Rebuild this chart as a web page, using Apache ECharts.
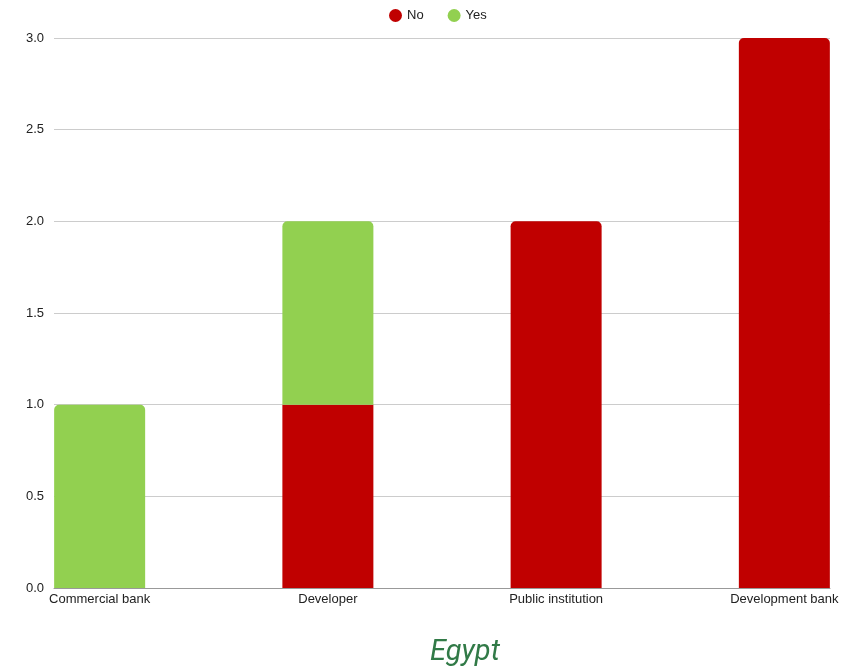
<!DOCTYPE html>
<html>
<head>
<meta charset="utf-8">
<script src="https://cdn.jsdelivr.net/npm/echarts@6/dist/echarts.min.js"></script>
<style>
  html, body { margin: 0; padding: 0; background: #fff; }
  #chart { width: 850px; height: 670px; }
</style>
</head>
<body>
<div id="chart"></div>
<script>
const categories = ['Commercial bank', 'Developer', 'Public institution', 'Development bank']
const noValues = [0, 1, 2, 3]
const yesValues = [1, 1, 0, 0]

let myChart = echarts.init(document.getElementById('chart'))

// the source chart puts the outer bars flush with the gridline ends,
// so the category axis gets 18 evenly spaced slots and the bars sit on slots 1, 6, 11, 16
const slotCount = 18
const barSlots = [1, 6, 11, 16]
const slotLabels = new Array(slotCount).fill('')
const noData = new Array(slotCount).fill('-')
const yesData = new Array(slotCount).fill('-')
barSlots.forEach((s, i) => {
  slotLabels[s] = categories[i]
  noData[s] = {
    value: noValues[i],
    itemStyle: { borderRadius: yesValues[i] > 0 ? 0 : [5, 5, 0, 0] }
  }
  yesData[s] = {
    value: yesValues[i],
    itemStyle: { borderRadius: [5, 5, 0, 0] }
  }
})

myChart.setOption({
  animation: false,
  title: {
    text: 'Egypt',
    left: 425,
    top: 633,
    textStyle: {
      fontFamily: 'Roboto',
      fontStyle: 'italic',
      fontWeight: 'normal',
      fontSize: 29,
      color: '#317a47'
    }
  },
  legend: {
    top: 4,
    left: 384,
    icon: 'circle',
    itemWidth: 13,
    itemHeight: 13,
    itemGap: 24,
    textStyle: { fontFamily: 'Arial, Liberation Sans', fontSize: 13, color: '#222' },
    data: ['No', 'Yes']
  },
  grid: { left: 54, right: 20, top: 38, bottom: 82 },
  xAxis: {
    type: 'category',
    data: slotLabels,
    boundaryGap: false,
    axisLine: { show: true, lineStyle: { color: '#999' } },
    axisTick: { show: false },
    axisLabel: {
      interval: 0,
      fontFamily: 'Arial, Liberation Sans',
      fontSize: 13,
      color: '#222',
      margin: 5
    }
  },
  yAxis: {
    type: 'value',
    min: 0,
    max: 3,
    interval: 0.5,
    axisLine: { show: false },
    axisTick: { show: false },
    splitLine: { lineStyle: { color: '#ccc' } },
    axisLabel: {
      formatter: v => v.toFixed(1),
      fontFamily: 'Arial, Liberation Sans',
      fontSize: 13,
      color: '#222',
      margin: 10
    }
  },
  series: [
    {
      name: 'No',
      type: 'bar',
      stack: 'Total',
      barWidth: 91,
      itemStyle: { color: '#c00000' },
      data: noData
    },
    {
      name: 'Yes',
      type: 'bar',
      stack: 'Total',
      barWidth: 91,
      itemStyle: { color: '#92d050' },
      data: yesData
    }
  ]
})
</script>
</body>
</html>
